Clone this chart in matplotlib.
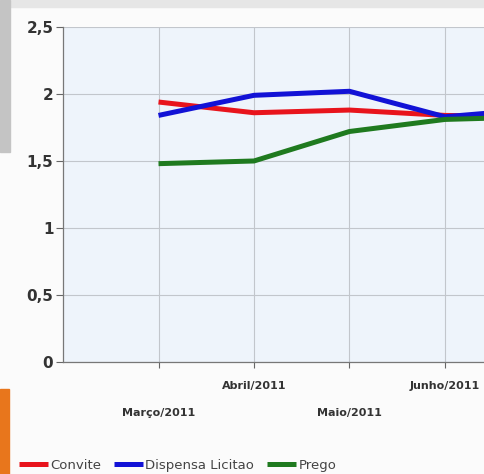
import matplotlib
matplotlib.use("Agg")
import matplotlib.pyplot as plt
from matplotlib.patches import Rectangle

# data (Julho is outside the visible crop, estimated from the slope at the edge)
meses = ["Março/2011", "Abril/2011", "Maio/2011", "Junho/2011", "Julho/2011"]
convite = [1.94, 1.86, 1.88, 1.84, 1.83]
dispensa = [1.84, 1.99, 2.02, 1.83, 1.89]
prego = [1.48, 1.50, 1.72, 1.81, 1.83]
yticks = [0, 0.5, 1, 1.5, 2, 2.5]
ylabels = ["0", "0,5", "1", "1,5", "2", "2,5"]

plt.rcParams['font.family'] = ['Liberation Sans Narrow', 'DejaVu Sans']

fig = plt.figure(figsize=(4.85, 4.74), dpi=100)
fig.patch.set_facecolor("#fbfbfb")

# bits of the screenshot around the chart
fig.patches.append(Rectangle((0, 0.985), 1, 0.015, transform=fig.transFigure,
                             color="#e6e6e6", zorder=0))
fig.patches.append(Rectangle((0, 0.68), 0.02, 0.32, transform=fig.transFigure,
                             color="#c4c4c4", zorder=0))
fig.patches.append(Rectangle((0, 0.0), 0.018, 0.18, transform=fig.transFigure,
                             color="#e8761c", zorder=0))

ax = fig.add_axes([0.13, 0.2363, 0.87, 0.7068])
ax.set_facecolor("#eef4fb")

x = list(range(1, len(meses) + 1))
ax.plot(x, convite, color="#e8141c", lw=3.6, label="Convite", solid_capstyle="butt", zorder=3)
ax.plot(x, dispensa, color="#1212d6", lw=3.6, label="Dispensa Licitao", solid_capstyle="butt", zorder=3)
ax.plot(x, prego, color="#1f7a1f", lw=3.6, label="Prego", solid_capstyle="butt", zorder=3)

ax.set_yticks(yticks)
ax.set_yticklabels(ylabels, fontsize=11, fontweight="bold", color="#333333")
ax.set_xticks(x)
ax.set_xticklabels(meses, fontsize=8, fontweight="bold", color="#333333")
for i, t in enumerate(ax.xaxis.get_major_ticks()):
    t.set_pad(29 if i % 2 == 0 else 10)
ax.set_xlim(0, 4.42)
ax.set_ylim(0, 2.5)

ax.grid(True, color="#c2c6cc", lw=0.8)
ax.set_axisbelow(True)
ax.tick_params(axis="y", length=5, color="#666666", pad=2)
ax.tick_params(axis="x", length=4, color="#666666")
for s in ["top", "right"]:
    ax.spines[s].set_visible(False)
for s in ["left", "bottom"]:
    ax.spines[s].set_color("#777777")
    ax.spines[s].set_linewidth(0.9)

fig.legend(loc="lower left", bbox_to_anchor=(0.015, -0.02), ncol=3, frameon=False,
           fontsize=9.5, handlelength=2.2, handletextpad=0.15, columnspacing=1.0,
           labelcolor="#444444")

fig.savefig("out.png", dpi=100, facecolor=fig.get_facecolor())
